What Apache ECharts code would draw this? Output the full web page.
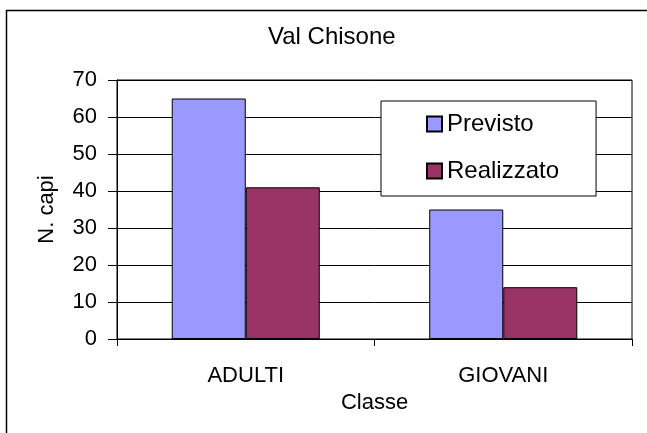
<!DOCTYPE html>
<html lang="it">
<head>
  <meta charset="UTF-8">
  <title>Val Chisone</title>
  <script src="https://cdn.jsdelivr.net/npm/echarts@6/dist/echarts.min.js"></script>
  <style>
    html,body{padding:0;margin:0;background:#fff;}
    #box{width:647px;height:433px;}
  </style>
</head>
<body>
  <div id="box"></div>
  <script>
    var classi = ['ADULTI', 'GIOVANI'];
    var previsto = [65, 35];
    var realizzato = [41, 14];

    var font = '"Liberation Sans", Arial, sans-serif';
    var option = {
      animation: false,
      textStyle: {fontFamily: font},
      title: {
        text: 'Val Chisone',
        left: 268,
        top: 25,
        padding: 0,
        textStyle: {fontFamily: font, fontSize: 24, fontWeight: 'normal', color: '#000'}
      },
      // chart frame: only top and left edges are visible in the picture
      graphic: [{
        type: 'polyline',
        shape: {points: [[6.5, 433], [6.5, 10.5], [647, 10.5]]},
        style: {fill: 'none', stroke: '#000', lineWidth: 1.5},
        z: -1
      }],
      legend: {
        orient: 'vertical',
        left: 381,
        top: 101,
        padding: [11, 37, 13, 45],
        itemGap: 23,
        itemWidth: 15,
        itemHeight: 15,
        itemTextGap: 10,
        icon: 'rect',
        backgroundColor: '#fff',
        borderColor: '#000',
        borderWidth: 1,
        textStyle: {fontFamily: font, fontSize: 24, color: '#000', lineHeight: 24},
        data: ['Previsto', 'Realizzato']
      },
      grid: {
        left: 117, right: 15, top: 80, bottom: 94,
        show: true, borderColor: '#000', borderWidth: 1
      },
      xAxis: {
        type: 'category',
        data: classi,
        name: 'Classe',
        nameLocation: 'middle',
        nameGap: 51,
        nameTextStyle: {fontFamily: font, fontSize: 22, color: '#000'},
        axisLine: {lineStyle: {color: '#000'}},
        axisTick: {show: true, length: 7, lineStyle: {color: '#000'}},
        axisLabel: {fontFamily: font, fontSize: 22, color: '#000', margin: 26}
      },
      yAxis: {
        type: 'value',
        min: 0, max: 70, interval: 10,
        name: 'N. capi',
        nameLocation: 'middle',
        nameGap: 59,
        nameTextStyle: {fontFamily: font, fontSize: 22, color: '#000'},
        axisLine: {show: true, lineStyle: {color: '#000'}},
        axisTick: {show: true, length: 9, lineStyle: {color: '#000'}},
        axisLabel: {fontFamily: font, fontSize: 22, color: '#000', margin: 20},
        splitLine: {lineStyle: {color: '#000', width: 1}}
      },
      series: [{
        name: 'Previsto',
        type: 'bar',
        data: previsto,
        barGap: '0%',
        barCategoryGap: '42.5%',
        itemStyle: {color: '#9999FF', borderColor: '#000', borderWidth: 1}
      }, {
        name: 'Realizzato',
        type: 'bar',
        data: realizzato,
        itemStyle: {color: '#993366', borderColor: '#000', borderWidth: 1}
      }]
    };
    var chart = echarts.init(document.getElementById('box'));
    chart.setOption(option);
  </script>
</body>
</html>
